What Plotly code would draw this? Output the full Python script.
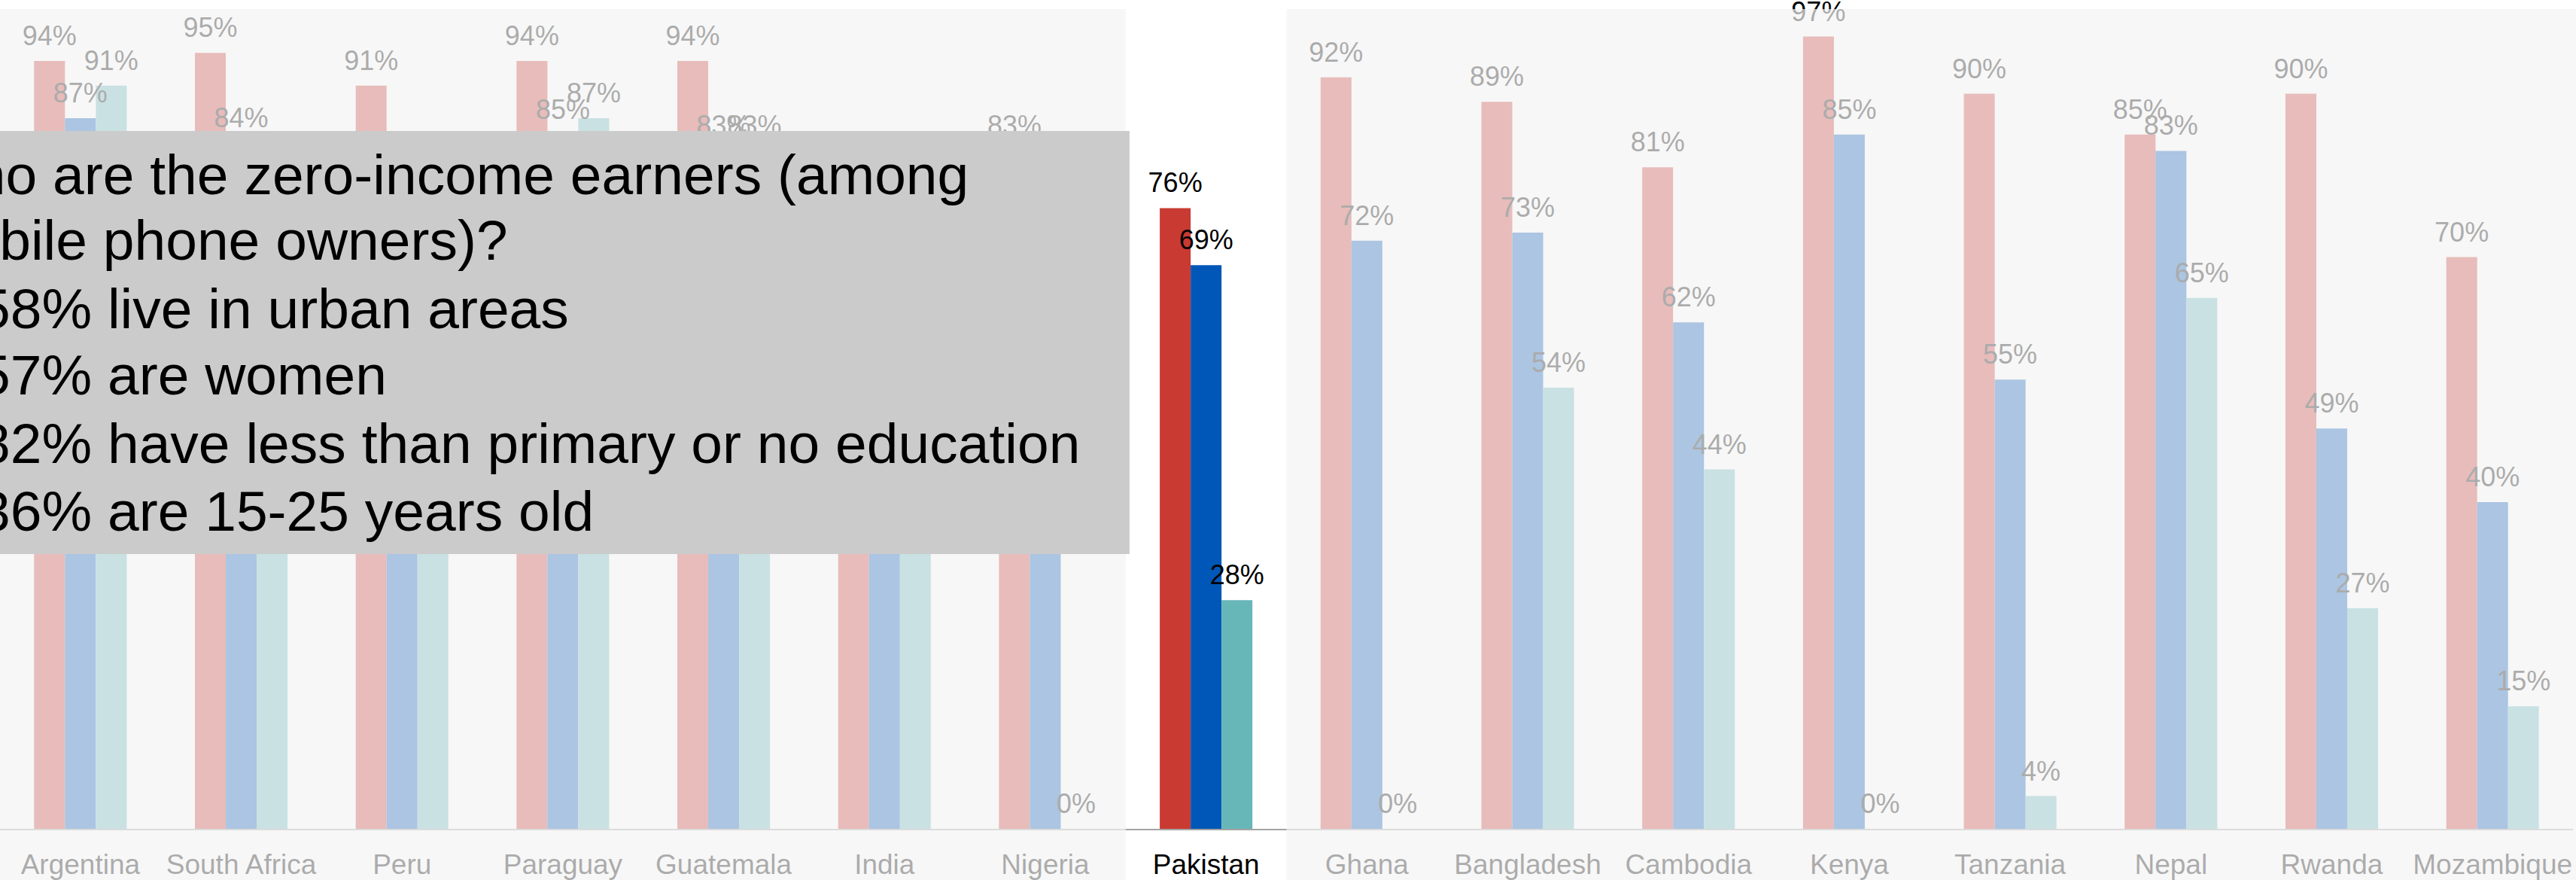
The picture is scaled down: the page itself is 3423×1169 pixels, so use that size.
import plotly.graph_objects as go

# Countries in display order; Pakistan is the highlighted one
countries = ["Argentina", "South Africa", "Peru", "Paraguay", "Guatemala", "India",
             "Nigeria", "Pakistan", "Ghana", "Bangladesh", "Cambodia", "Kenya",
             "Tanzania", "Nepal", "Rwanda", "Mozambique"]

# Three measures per country (percent)
series_1 = [94, 95, 91, 94, 94, 79, 83, 76, 92, 89, 81, 97, 90, 85, 90, 70]
series_2 = [87, 84, 81, 85, 83, 72, 66, 69, 72, 73, 62, 85, 55, 83, 49, 40]
series_3 = [91, 70, 62, 87, 83, 57, 0, 28, 0, 54, 44, 0, 4, 65, 27, 15]

series_names = ["Measure 1", "Measure 2", "Measure 3"]
series_colors = ["#c83a32", "#0057b7", "#67b6b8"]

highlight = "Pakistan"

box_lines = [
    "Who are the zero-income earners (among",
    "mobile phone owners)?",
]
box_points = [
    "58% live in urban areas",
    "57% are women",
    "82% have less than primary or no education",
    "36% are 15-25 years old",
]

FONT = "Liberation Sans, Arial, sans-serif"
W, H = 3423, 1169
M_B = 68
PLOT_H = H - M_B
N = len(countries)
BAR_W = 0.192
offsets = [-1.5 * BAR_W, -0.5 * BAR_W, 0.5 * BAR_W]

idx = list(range(N))
fig = go.Figure()

all_series = [series_1, series_2, series_3]
for name, vals, col, off in zip(series_names, all_series, series_colors, offsets):
    fig.add_trace(go.Bar(
        x=idx, y=vals, name=name, width=BAR_W, offset=off,
        marker=dict(color=col, line=dict(width=0)),
        hoverinfo="skip", showlegend=False,
    ))

# value labels sitting above each bar
for name, vals, off in zip(series_names, all_series, offsets):
    fig.add_trace(go.Scatter(
        x=[i + off + BAR_W / 2 for i in idx], y=vals,
        mode="markers+text", text=[f"{v}%" for v in vals],
        textposition="top center",
        textfont=dict(family=FONT, size=36, color="#000000"),
        marker=dict(size=17.6, opacity=0),
        cliponaxis=False, hoverinfo="skip", showlegend=False,
    ))

hi = countries.index(highlight)

def px_to_paper_y(py):
    return (PLOT_H - py) / PLOT_H

panel_top = px_to_paper_y(12)
panel_bot = px_to_paper_y(H + 5)

shapes = [
    # translucent wash over the non-highlighted countries
    dict(type="rect", xref="paper", yref="paper",
         x0=-0.01, x1=hi / N, y0=panel_bot, y1=panel_top,
         fillcolor="rgba(244,244,244,0.7)", line=dict(width=0), layer="above"),
    dict(type="rect", xref="paper", yref="paper",
         x0=(hi + 1) / N, x1=1.01, y0=panel_bot, y1=panel_top,
         fillcolor="rgba(244,244,244,0.7)", line=dict(width=0), layer="above"),
    # callout box
    dict(type="rect", xref="paper", yref="paper",
         x0=-0.05, x1=0.439, y0=px_to_paper_y(736), y1=px_to_paper_y(174),
         fillcolor="#cbcbcb", line=dict(width=0), layer="above"),
]

TXT = 75
annotations = []
baselines = [258, 345, 436, 524, 615, 705]
lines = box_lines + box_points
for k, (line, base) in enumerate(zip(lines, baselines)):
    x_px = -107 if k < 2 else -30
    annotations.append(dict(
        text=line, xref="paper", yref="paper",
        x=x_px / (W - 4), y=px_to_paper_y(base - 0.3465 * TXT),
        xanchor="left", yanchor="middle", showarrow=False,
        font=dict(family=FONT, size=TXT, color="#000000"), align="left",
    ))

fig.update_layout(
    width=W, height=H,
    margin=dict(l=0, r=4, t=0, b=M_B, autoexpand=False),
    paper_bgcolor="#ffffff", plot_bgcolor="#ffffff",
    barmode="overlay",
    shapes=shapes, annotations=annotations,
    xaxis=dict(
        range=[-0.5, N - 0.5], tickmode="array", tickvals=idx, ticktext=countries,
        showgrid=False, zeroline=False, showline=True, linecolor="#a3a3a3",
        linewidth=2, ticks="", ticklabelstandoff=14, automargin=False,
        tickfont=dict(family=FONT, size=37, color="#000000"),
        fixedrange=True,
    ),
    yaxis=dict(range=[0, PLOT_H / 10.85], visible=False, fixedrange=True,
               automargin=False),
)

fig.write_html("out.html")
